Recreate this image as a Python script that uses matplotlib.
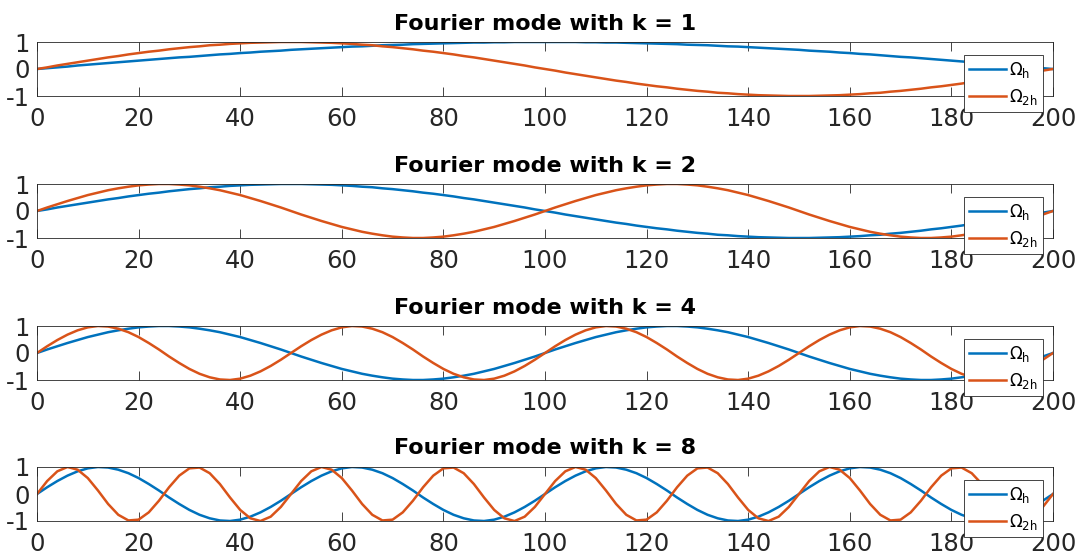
import matplotlib
matplotlib.use("Agg")
import matplotlib.pyplot as plt
import numpy as np

plt.rcParams['font.family'] = ['DejaVu Sans']
plt.rcParams['mathtext.fontset'] = 'dejavusans'
plt.rcParams['axes.unicode_minus'] = False

# grid points (every 2nd point from 0 to 200)
x_grid = np.arange(0, 201, 2)

mode_1 = [0.00, 0.03, 0.06, 0.09, 0.13, 0.16, 0.19, 0.22, 0.25, 0.28,
          0.31, 0.34, 0.37, 0.40, 0.43, 0.45, 0.48, 0.51, 0.54, 0.56,
          0.59, 0.61, 0.64, 0.66, 0.68, 0.71, 0.73, 0.75, 0.77, 0.79,
          0.81, 0.83, 0.84, 0.86, 0.88, 0.89, 0.90, 0.92, 0.93, 0.94,
          0.95, 0.96, 0.97, 0.98, 0.98, 0.99, 0.99, 1.00, 1.00, 1.00,
          1.00,
          1.00, 1.00, 1.00, 0.99, 0.99, 0.98, 0.98, 0.97, 0.96, 0.95,
          0.94, 0.93, 0.92, 0.90, 0.89, 0.88, 0.86, 0.84, 0.83, 0.81,
          0.79, 0.77, 0.75, 0.73, 0.71, 0.68, 0.66, 0.64, 0.61, 0.59,
          0.56, 0.54, 0.51, 0.48, 0.45, 0.43, 0.40, 0.37, 0.34, 0.31,
          0.28, 0.25, 0.22, 0.19, 0.16, 0.13, 0.09, 0.06, 0.03, 0.00]

mode_2 = [0.00, 0.06, 0.13, 0.19, 0.25, 0.31, 0.37, 0.43, 0.48, 0.54,
          0.59, 0.64, 0.68, 0.73, 0.77, 0.81, 0.84, 0.88, 0.90, 0.93,
          0.95, 0.97, 0.98, 0.99, 1.00, 1.00,
          1.00, 0.99, 0.98, 0.97, 0.95, 0.93, 0.90, 0.88, 0.84, 0.81,
          0.77, 0.73, 0.68, 0.64, 0.59, 0.54, 0.48, 0.43, 0.37, 0.31,
          0.25, 0.19, 0.13, 0.06, 0.00,
          -0.06, -0.13, -0.19, -0.25, -0.31, -0.37, -0.43, -0.48, -0.54, -0.59,
          -0.64, -0.68, -0.73, -0.77, -0.81, -0.84, -0.88, -0.90, -0.93, -0.95,
          -0.97, -0.98, -0.99, -1.00, -1.00,
          -1.00, -0.99, -0.98, -0.97, -0.95, -0.93, -0.90, -0.88, -0.84, -0.81,
          -0.77, -0.73, -0.68, -0.64, -0.59, -0.54, -0.48, -0.43, -0.37, -0.31,
          -0.25, -0.19, -0.13, -0.06, 0.00]

mode_4 = [0.00,
          0.13, 0.25, 0.37, 0.48, 0.59, 0.68, 0.77, 0.84, 0.90, 0.95, 0.98, 1.00,
          1.00, 0.98, 0.95, 0.90, 0.84, 0.77, 0.68, 0.59, 0.48, 0.37, 0.25, 0.13, 0.00,
          -0.13, -0.25, -0.37, -0.48, -0.59, -0.68, -0.77, -0.84, -0.90, -0.95, -0.98, -1.00,
          -1.00, -0.98, -0.95, -0.90, -0.84, -0.77, -0.68, -0.59, -0.48, -0.37, -0.25, -0.13, 0.00,
          0.13, 0.25, 0.37, 0.48, 0.59, 0.68, 0.77, 0.84, 0.90, 0.95, 0.98, 1.00,
          1.00, 0.98, 0.95, 0.90, 0.84, 0.77, 0.68, 0.59, 0.48, 0.37, 0.25, 0.13, 0.00,
          -0.13, -0.25, -0.37, -0.48, -0.59, -0.68, -0.77, -0.84, -0.90, -0.95, -0.98, -1.00,
          -1.00, -0.98, -0.95, -0.90, -0.84, -0.77, -0.68, -0.59, -0.48, -0.37, -0.25, -0.13, 0.00]

mode_8 = [0.00,
          0.25, 0.48, 0.68, 0.84, 0.95, 1.00, 0.98, 0.90, 0.77, 0.59, 0.37, 0.13,
          -0.13, -0.37, -0.59, -0.77, -0.90, -0.98, -1.00, -0.95, -0.84, -0.68, -0.48, -0.25, 0.00,
          0.25, 0.48, 0.68, 0.84, 0.95, 1.00, 0.98, 0.90, 0.77, 0.59, 0.37, 0.13,
          -0.13, -0.37, -0.59, -0.77, -0.90, -0.98, -1.00, -0.95, -0.84, -0.68, -0.48, -0.25, 0.00,
          0.25, 0.48, 0.68, 0.84, 0.95, 1.00, 0.98, 0.90, 0.77, 0.59, 0.37, 0.13,
          -0.13, -0.37, -0.59, -0.77, -0.90, -0.98, -1.00, -0.95, -0.84, -0.68, -0.48, -0.25, 0.00,
          0.25, 0.48, 0.68, 0.84, 0.95, 1.00, 0.98, 0.90, 0.77, 0.59, 0.37, 0.13,
          -0.13, -0.37, -0.59, -0.77, -0.90, -0.98, -1.00, -0.95, -0.84, -0.68, -0.48, -0.25, 0.00]

mode_16 = [0.00,
           0.48, 0.84, 1.00, 0.90, 0.59, 0.13, -0.37, -0.77, -0.98, -0.95, -0.68, -0.25,
           0.25, 0.68, 0.95, 0.98, 0.77, 0.37, -0.13, -0.59, -0.90, -1.00, -0.84, -0.48, 0.00,
           0.48, 0.84, 1.00, 0.90, 0.59, 0.13, -0.37, -0.77, -0.98, -0.95, -0.68, -0.25,
           0.25, 0.68, 0.95, 0.98, 0.77, 0.37, -0.13, -0.59, -0.90, -1.00, -0.84, -0.48, 0.00,
           0.48, 0.84, 1.00, 0.90, 0.59, 0.13, -0.37, -0.77, -0.98, -0.95, -0.68, -0.25,
           0.25, 0.68, 0.95, 0.98, 0.77, 0.37, -0.13, -0.59, -0.90, -1.00, -0.84, -0.48, 0.00,
           0.48, 0.84, 1.00, 0.90, 0.59, 0.13, -0.37, -0.77, -0.98, -0.95, -0.68, -0.25,
           0.25, 0.68, 0.95, 0.98, 0.77, 0.37, -0.13, -0.59, -0.90, -1.00, -0.84, -0.48, 0.00]

k_values = [1, 2, 4, 8]
# fine grid curve and coarse grid curve for each panel
omega_h = [mode_1, mode_2, mode_4, mode_8]
omega_2h = [mode_2, mode_4, mode_8, mode_16]

x_ticks = [0, 20, 40, 60, 80, 100, 120, 140, 160, 180, 200]
y_ticks = [-1, 0, 1]

blue = '#0072BD'
orange = '#D95319'
dark = '#262626'

fig = plt.figure(figsize=(10.85, 5.59), dpi=100)

# axes top pixel rows of the four panels
tops = [42, 184, 326, 467]
ax_h = 54
for i, k in enumerate(k_values):
    bottom = 1 - (tops[i] + ax_h) / 559
    ax = fig.add_axes([37 / 1085, bottom, 1016 / 1085, ax_h / 559])
    ax.plot(x_grid, omega_h[i], color=blue, lw=1.8, label=r'$\Omega_{\mathrm{h}}$')
    ax.plot(x_grid, omega_2h[i], color=orange, lw=1.8, label=r'$\Omega_{\mathrm{2h}}$')
    ax.set_xlim(0, 200)
    ax.set_ylim(-1, 1)
    ax.set_xticks(x_ticks)
    ax.set_yticks(y_ticks)
    ax.tick_params(axis='x', direction='in', length=6.5, width=0.6, top=True,
                   colors=dark, labelsize=17.5, pad=8)
    ax.tick_params(axis='y', length=0, colors=dark, labelsize=17.5, pad=5)
    for s in ax.spines.values():
        s.set_color(dark)
        s.set_linewidth(0.6)
    ax.set_title(f'Fourier mode with k = {k}', fontsize=16, fontweight='bold', pad=9)
    leg = ax.legend(loc='lower right', bbox_to_anchor=(0.99, -0.3), borderaxespad=0,
                    fontsize=12, fancybox=False, framealpha=1, edgecolor=dark,
                    handlelength=2.2, handletextpad=0.2, borderpad=0.3,
                    labelspacing=0.45)
    leg.get_frame().set_linewidth(0.6)

fig.savefig('out.png', dpi=100)
